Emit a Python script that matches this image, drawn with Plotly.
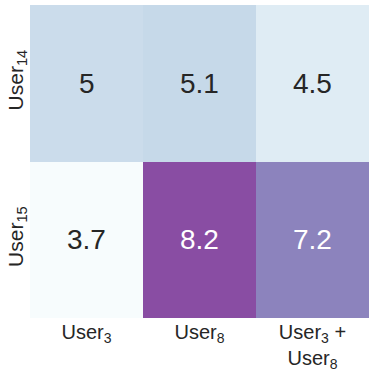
import plotly.graph_objects as go

# 数据
x_labels = ["User<sub>3</sub>", "User<sub>8</sub>", "User<sub>3</sub> +<br>User<sub>8</sub>"]
y_labels = ["User<sub>14</sub>", "User<sub>15</sub>"]
values = [
    [5.0, 5.1, 4.5],
    [3.7, 8.2, 7.2],
]
value_text = [["5", "5.1", "4.5"], ["3.7", "8.2", "7.2"]]

fig = go.Figure(go.Heatmap(
    z=values,
    x=x_labels,
    y=y_labels,
    colorscale="BuPu",
    zmin=3.7,
    zmax=10,
    showscale=False,
))

# 单元格标注
for i, row in enumerate(values):
    for j, v in enumerate(row):
        fig.add_annotation(
            x=x_labels[j], y=y_labels[i],
            text=value_text[i][j],
            showarrow=False,
            font=dict(size=28, color="white" if v > 6.5 else "#262626",
                      family="Liberation Sans, Arial"),
        )

fig.update_layout(
    width=374, height=374,
    margin=dict(l=30, r=5, t=5, b=56),
    plot_bgcolor="white",
    paper_bgcolor="white",
    font=dict(family="Liberation Sans, Arial", size=21, color="#262626"),
)
fig.update_xaxes(showgrid=False, zeroline=False, ticks="", automargin=False,
                 ticklabelstandoff=0, tickfont=dict(size=20))
fig.update_yaxes(showgrid=False, zeroline=False, ticks="", autorange="reversed",
                 tickangle=-90, automargin=False, ticklabelstandoff=2)

# 去掉页面默认边距
fig.write_html("out.html", config={"displayModeBar": False},
               post_script="document.body.style.margin='0px';")
